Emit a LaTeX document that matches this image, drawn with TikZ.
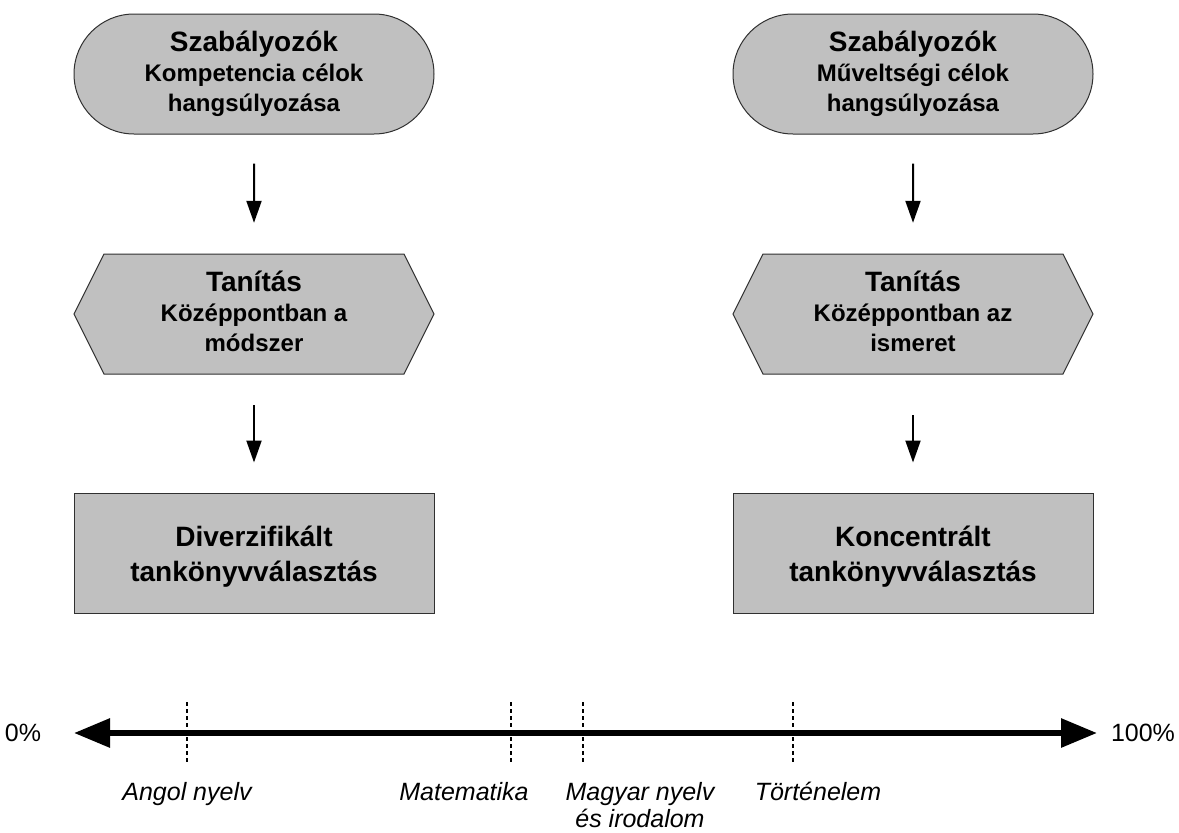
\documentclass[tikz,border=0pt]{standalone}
\usepackage{fontspec}
\setmainfont{Liberation Sans}
\usetikzlibrary{shapes.misc,arrows.meta}
\definecolor{boxgray}{HTML}{C0C0C0}
\definecolor{edgegray}{HTML}{303030}
\newcommand{\ttl}[1]{{\fontsize{28}{30}\selectfont #1}}
\begin{document}
\begin{tikzpicture}[x=1pt,y=-1pt,
  shapefill/.style={fill=boxgray, draw=edgegray, line width=1pt},
  term/.style={shapefill, rounded rectangle, minimum width=360pt, minimum height=120pt, inner sep=0pt, align=center, font=\bfseries\fontsize{24}{30}\selectfont},
  hexnode/.style={rectangle, minimum width=360pt, minimum height=120pt, inner sep=0pt},
  hexshape/.style={shapefill},
  hextext/.style={inner sep=0pt, align=center, font=\bfseries\fontsize{24}{30}\selectfont},
  resbox/.style={shapefill, rectangle, minimum width=360pt, minimum height=120pt, inner sep=0pt},
  restext/.style={inner sep=0pt, align=center, font=\bfseries\fontsize{28}{35}\selectfont},
  flowarrow/.style={line width=2pt, -{Triangle[width=15pt,length=22pt]}},
  axisline/.style={line width=6pt, {Triangle[width=28pt,length=36pt]}-{Triangle[width=28pt,length=36pt]}},
  tickline/.style={line width=2pt, dash pattern=on 4pt off 3pt},
  pct/.style={inner sep=0pt, font=\fontsize{25}{28}\selectfont},
  subj/.style={inner sep=0pt, align=center, font=\itshape\fontsize{25}{27}\selectfont}
]
\useasboundingbox (0,0) rectangle (1179,833);

% left column
\node[term] (s1) at (254,74) {\ttl{Szabályozók}\\Kompetencia célok\\hangsúlyozása};
\draw[hexshape] (74,314) -- (104,254) -- (404,254) -- (434,314) -- (404,374) -- (104,374) -- cycle;
\node[hexnode] (t1) at (254,314) {};
\node[hextext] (t1txt) at ([yshift=3pt]t1.center) {\ttl{Tanítás}\\Középpontban a\\módszer};
\node[resbox] (r1) at (254,553) {};
\node[restext] (r1txt) at ([yshift=-4pt]r1.center) {Diverzifikált\\tankönyvválasztás};

% right column
\node[term] (s2) at (913,74) {\ttl{Szabályozók}\\Műveltségi célok\\hangsúlyozása};
\draw[hexshape] (733,314) -- (763,254) -- (1063,254) -- (1093,314) -- (1063,374) -- (763,374) -- cycle;
\node[hexnode] (t2) at (913,314) {};
\node[hextext] (t2txt) at ([yshift=3pt]t2.center) {\ttl{Tanítás}\\Középpontban az\\ismeret};
\node[resbox] (r2) at (913,553) {};
\node[restext] (r2txt) at ([yshift=-4pt]r2.center) {Koncentrált\\tankönyvválasztás};

% flow arrows
\draw[flowarrow, shorten <=29pt, shorten >=31pt] (s1) -- (t1);
\draw[flowarrow, shorten <=31pt, shorten >=30pt] (t1) -- (r1);
\draw[flowarrow, shorten <=29pt, shorten >=31pt] (s2) -- (t2);
\draw[flowarrow, shorten <=41pt, shorten >=30pt] (t2) -- (r2);

% axis
\coordinate (axl) at (74,733);
\coordinate (axr) at (1097,733);
\draw[axisline] (axl) -- (axr);
\node[pct] (p0) at (23,733) {0\%};
\node[pct] (p100) at (1143,733) {100\%};

\draw[tickline] (187,702) -- (187,762);
\draw[tickline] (511,702) -- (511,762);
\draw[tickline] (583,702) -- (583,762);
\draw[tickline] (793,702) -- (793,762);

\node[subj, anchor=base] (l1) at (187,800) {Angol nyelv};
\node[subj, anchor=base] (l2) at (464,800) {Matematika};
\node[subj, anchor=north] (l3) at (640,782) {Magyar nyelv\\és irodalom};
\node[subj, anchor=base] (l4) at (818,800) {Történelem};
\end{tikzpicture}
\end{document}
